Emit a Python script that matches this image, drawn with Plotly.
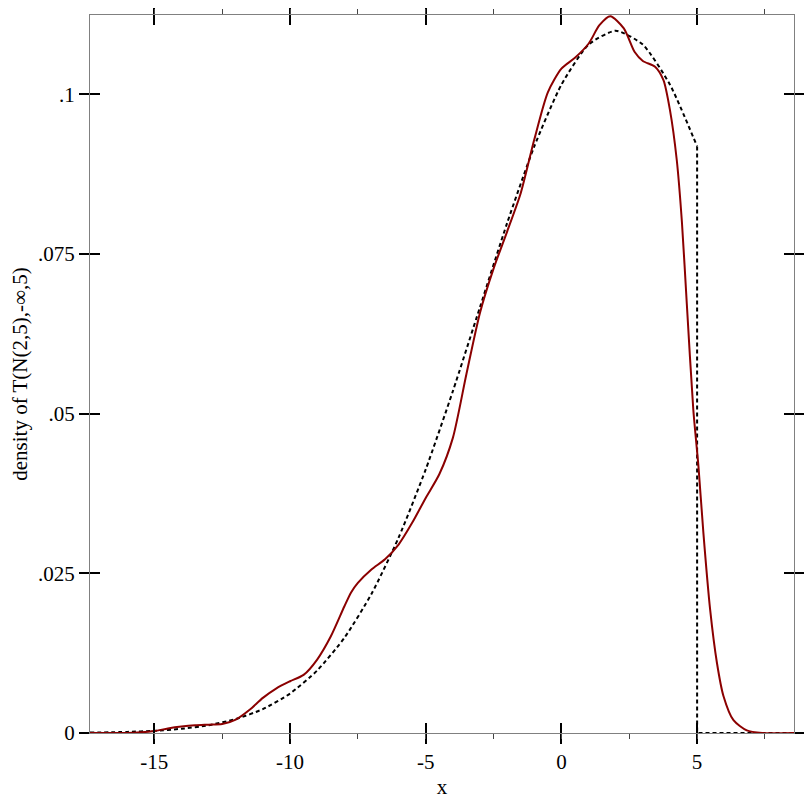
import plotly.graph_objects as go

# Kernel density estimate (solid dark red)
kde_x = [-17.37, -16.0, -15.5, -15.0, -14.5, -14.0, -13.5, -13.0, -12.5, -12.0,
         -11.5, -11.0, -10.5, -10.0, -9.5, -9.0, -8.5, -8.0, -7.75, -7.5, -7.0,
         -6.5, -6.0, -5.5, -5.0, -4.5, -4.0, -3.5, -3.0, -2.5, -2.0,
         -1.5, -1.0, -0.5, 0.0, 0.5, 1.0, 1.4, 1.8, 2.3, 2.7,
         3.0, 3.45, 3.76, 4.0, 4.25, 4.44, 4.62, 4.86, 5.05, 5.23,
         5.48, 5.73, 5.97, 6.34, 6.83, 7.4, 8.57]
kde_y = [0.0, 0.0, 0.0001, 0.0003, 0.0007, 0.0010, 0.0012, 0.0013, 0.0014, 0.0021,
         0.0036, 0.0055, 0.0070, 0.0081, 0.0091, 0.0115, 0.0151, 0.0198, 0.0220, 0.0235, 0.0256,
         0.0272, 0.0295, 0.0329, 0.0368, 0.0405, 0.0462, 0.0562, 0.0658, 0.0727, 0.0785,
         0.0845, 0.0929, 0.1003, 0.1040, 0.1057, 0.1079, 0.1108, 0.1122, 0.1103, 0.1066,
         0.1052, 0.1043, 0.1022, 0.0975, 0.0897, 0.0800, 0.0672, 0.0506, 0.0417, 0.0314,
         0.0193, 0.0110, 0.0058, 0.0020, 0.0004, 0.0, 0.0]

# Truncated normal density (dashed black)
pdf_x = [-17.37, -16, -15, -14, -13, -12, -11, -10, -9, -8, -7, -6, -5, -4,
         -3, -2, -1, 0, 1, 2, 3, 4, 5]
pdf_y = [0.00006, 0.00017, 0.00034, 0.00066, 0.00122, 0.00218, 0.00374, 0.00617,
         0.00978, 0.01488, 0.02176, 0.03057, 0.04126, 0.05351, 0.06668, 0.07983,
         0.09183, 0.10149, 0.10777, 0.10994, 0.10777, 0.10149, 0.09183]
tail_x = [5, 5, 8.57]
tail_y = [0.09183, 0.0, 0.0]

x_ticks = [-15, -10, -5, 0, 5]
x_labels = ["-15", "-10", "-5", "0", "5"]
y_ticks = [0, 0.025, 0.05, 0.075, 0.1]
y_labels = ["0", ".025", ".05", ".075", ".1"]

x_range = [-17.37, 8.57]
y_range = [0, 0.1124]

FONT = "Liberation Serif, Times New Roman, DejaVu Serif, serif"
GRAY = "#808080"

fig = go.Figure()
fig.add_trace(go.Scatter(x=pdf_x, y=pdf_y, mode="lines",
                         line=dict(color="black", width=2, dash="4px,3px", shape="spline", smoothing=0.6),
                         hoverinfo="skip", showlegend=False))
fig.add_trace(go.Scatter(x=tail_x, y=tail_y, mode="lines",
                         line=dict(color="black", width=2, dash="4px,3px"),
                         hoverinfo="skip", showlegend=False))
fig.add_trace(go.Scatter(x=kde_x, y=kde_y, mode="lines", xaxis="x2", yaxis="y2",
                         line=dict(color="#8b0000", width=2, shape="spline", smoothing=0.7),
                         hoverinfo="skip", showlegend=False))

common_x = dict(range=x_range, tickvals=x_ticks, showgrid=False, zeroline=False,
                showline=True, linecolor=GRAY, linewidth=1, automargin=False,
                ticklen=10, tickwidth=2, tickcolor="black", mirror="allticks",
                minor=dict(dtick=2.5, tick0=0, ticklen=5, tickwidth=1, tickcolor="#444444", showgrid=False))
common_y = dict(range=y_range, tickvals=y_ticks, showgrid=False, zeroline=False,
                showline=True, linecolor=GRAY, linewidth=1, automargin=False,
                ticklen=10, tickwidth=2, tickcolor="black", mirror="allticks")

# the page body has an 8px margin, so the figure is 796 wide/high and margins are shifted
fig.update_layout(
    width=796, height=796,
    margin=dict(l=82, r=10, t=7, b=71, autoexpand=False),
    paper_bgcolor="white", plot_bgcolor="white",
    font=dict(family=FONT, size=21, color="black"),
    xaxis=dict(**common_x, ticks="outside", ticktext=x_labels,
               title=dict(text="x", standoff=6, font=dict(family=FONT, size=21))),
    yaxis=dict(**common_y, ticks="outside", ticktext=y_labels,
               title=dict(text="density of T(N(2,5),-∞,5)", standoff=4, font=dict(family=FONT, size=21))),
    xaxis2=dict(**common_x, ticks="inside", overlaying="x", showticklabels=False),
    yaxis2=dict(**common_y, ticks="inside", overlaying="y", showticklabels=False),
)

fig.write_html("out.html")
